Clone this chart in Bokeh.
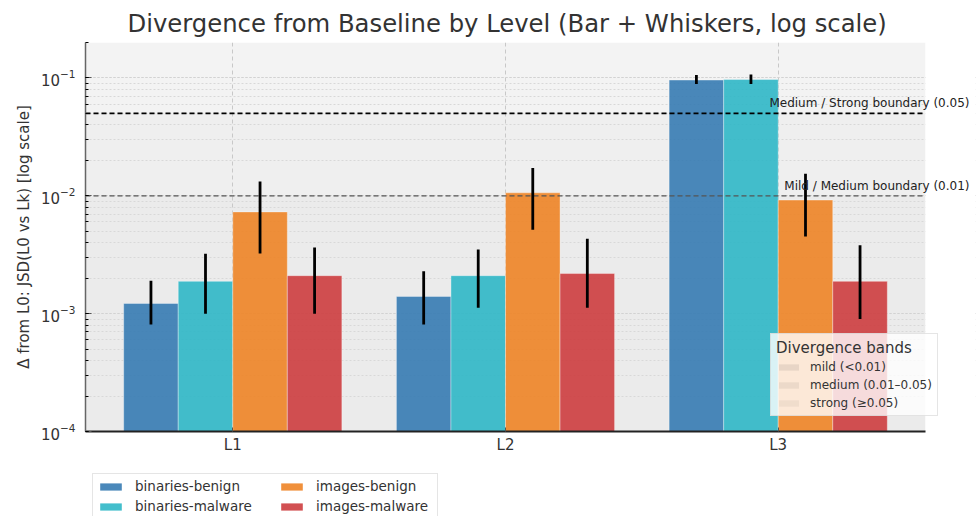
from bokeh.plotting import figure
from bokeh.layouts import column
from bokeh.models import (Range1d, FixedTicker, Label, Legend, LegendItem,
                          ColumnDataSource)
from bokeh.embed import file_html
from bokeh.resources import INLINE

levels = ["L1", "L2", "L3"]
series = ["binaries-benign", "binaries-malware", "images-benign", "images-malware"]
colors = ["#367bb2", "#2fb7c7", "#ee8426", "#cd3d3f"]

bb_mean = [0.00122, 0.00140, 0.096]
bb_lo = [0.00081, 0.00081, 0.089]
bb_hi = [0.0019, 0.00229, 0.106]
bm_mean = [0.00188, 0.0021, 0.097]
bm_lo = [0.0010, 0.00112, 0.089]
bm_hi = [0.00322, 0.0035, 0.107]
ib_mean = [0.0073, 0.0106, 0.0092]
ib_lo = [0.00324, 0.00516, 0.00452]
ib_hi = [0.0132, 0.0172, 0.0154]
im_mean = [0.0021, 0.00219, 0.00188]
im_lo = [0.0010, 0.00112, 0.0009]
im_hi = [0.00365, 0.00433, 0.0038]

means = [bb_mean, bm_mean, ib_mean, im_mean]
lows = [bb_lo, bm_lo, ib_lo, im_lo]
highs = [bb_hi, bm_hi, ib_hi, im_hi]

band_labels = ["mild (<0.01)", "medium (0.01–0.05)", "strong (≥0.05)"]
band_lo = [1e-4, 0.01, 0.05]
band_hi = [0.01, 0.05, 0.2]
band_alphas = [0.08, 0.062, 0.047]

boundaries = [0.05, 0.01]
boundary_labels = ["Medium / Strong boundary (0.05)", "Mild / Medium boundary (0.01)"]
boundary_colors = ["#000000", "#555555"]
boundary_widths = [1.8, 1.3]

FONT = "DejaVu Sans"
bar_w = 0.2
n_series = len(series)
span = len(levels) - 1 + bar_w * n_series
xmin = -bar_w * n_series / 2 - 0.05 * span
xmax = len(levels) - 1 + bar_w * n_series / 2 + 0.05 * span
ymin, ymax = 1e-4, 0.2

AX_PX = 840      # width of the drawn axes area
FRAME_PX = 890   # frame also holds the labels that overhang on the right
x_end = xmin + (xmax - xmin) * FRAME_PX / AX_PX
px_unit = AX_PX / (xmax - xmin)

p = figure(frame_width=FRAME_PX, frame_height=389, y_axis_type="log",
           x_range=Range1d(xmin, x_end), y_range=Range1d(ymin, ymax),
           output_backend="svg", toolbar_location=None,
           min_border_left=85, min_border_right=4, min_border_top=42, min_border_bottom=39)
p.outline_line_color = None
p.background_fill_color = "white"
p.border_fill_color = "white"

# bands
band_renderers = []
for lo, hi, a in zip(band_lo, band_hi, band_alphas):
    r = p.quad(left=[xmin], right=[xmax], bottom=[lo], top=[hi], fill_color="black",
               fill_alpha=a, line_color=None, level="image")
    band_renderers.append(r)

# hide grid beyond the axes area
p.quad(left=[xmax], right=[x_end], bottom=[ymin], top=[ymax], fill_color="white",
       line_color=None)

# bars
sources = []
for i, (name, col, m, lo, hi) in enumerate(zip(series, colors, means, lows, highs)):
    xs = [k + (i - (n_series - 1) / 2) * bar_w for k in range(len(levels))]
    src = ColumnDataSource(dict(x=xs, top=m, lo=lo, hi=hi))
    sources.append(src)
    p.vbar(x="x", top="top", bottom=ymin, width=bar_w, source=src,
           fill_color=col, fill_alpha=0.9, line_color="white", line_alpha=0.35,
           line_width=1)

# boundary lines
for b, c, w in zip(boundaries, boundary_colors, boundary_widths):
    p.segment(x0=[xmin], y0=[b], x1=[xmax], y1=[b], line_color=c, line_width=w,
              line_dash="5 3")

# whiskers
for src in sources:
    p.segment(x0="x", y0="lo", x1="x", y1="hi", source=src, line_color="black",
              line_width=2.8)

for b, lab in zip(boundaries, boundary_labels):
    p.add_layout(Label(x=xmax + 44 / px_unit, y=b, text=lab, text_align="right",
                       text_baseline="bottom", y_offset=3, text_font=FONT,
                       text_font_size="12px", text_color="#222222"))

# grids
p.xgrid.ticker = FixedTicker(ticks=list(range(len(levels))))
p.xgrid.grid_line_color = "#c8c8c8"
p.xgrid.grid_line_dash = "4 3"
p.ygrid.grid_line_color = "#d2d2d2"
p.ygrid.grid_line_dash = "2 2"
p.ygrid.minor_grid_line_color = "#d8d8d8"
p.ygrid.minor_grid_line_dash = "2 2"

# axes
p.xaxis.ticker = FixedTicker(ticks=list(range(len(levels))))
p.xaxis.major_label_overrides = {i: lv for i, lv in enumerate(levels)}
p.xaxis.bounds = (xmin, xmax)
p.xaxis.major_tick_in = 4
p.xaxis.major_tick_out = 0
p.xaxis.minor_tick_line_color = None
p.xaxis.axis_line_color = "#222222"
p.xaxis.axis_line_width = 1.8
p.xaxis.major_label_standoff = 4
p.yaxis.axis_line_color = "#666666"
p.yaxis.axis_line_width = 1.5
p.yaxis.major_tick_in = 6
p.yaxis.major_tick_out = 0
p.yaxis.minor_tick_in = 3
p.yaxis.minor_tick_out = 0
p.yaxis.major_label_standoff = 10
p.yaxis.axis_label = "Δ from L0: JSD(L0 vs Lk) [log scale]"
for ax in (p.xaxis[0], p.yaxis[0]):
    ax.major_label_text_font = FONT
    ax.major_label_text_font_size = "15px"
    ax.major_label_text_color = "#333333"
    ax.axis_label_text_font = FONT
    ax.axis_label_text_font_size = "15px"
    ax.axis_label_text_font_style = "normal"
    ax.axis_label_text_color = "#333333"
    ax.major_tick_line_color = "#555555"

p.title.text = "Divergence from Baseline by Level (Bar + Whiskers, log scale)"
p.title.text_font = FONT
p.title.text_font_size = "24.3px"
p.title.text_font_style = "normal"
p.title.text_color = "#333333"
p.title.align = "left"
p.title.offset = 42
p.title.standoff = 10

# band legend
band_leg = Legend(items=[LegendItem(label=l, renderers=[r]) for l, r in zip(band_labels, band_renderers)],
                  title="Divergence bands", location=(685, 15))
band_leg.title_text_font = FONT
band_leg.title_text_font_size = "15px"
band_leg.title_text_font_style = "normal"
band_leg.title_text_color = "#333333"
band_leg.title_standoff = 2
band_leg.label_text_font = FONT
band_leg.label_text_font_size = "12px"
band_leg.label_text_color = "#333333"
band_leg.label_standoff = 9
band_leg.background_fill_alpha = 0.8
band_leg.border_line_color = "#cccccc"
band_leg.glyph_width = 25
band_leg.glyph_height = 8
band_leg.label_height = 15
band_leg.spacing = 3
band_leg.padding = 5
p.add_layout(band_leg)

# series legend (separate strip below the chart; its frame aligns with the chart's);
# the proxy renderers lie far outside this strip's visible range
lp = figure(width=FRAME_PX + 89, height=46, x_range=Range1d(100, 101), y_range=Range1d(1, 2),
            x_axis_location=None, y_axis_location=None, output_backend="svg",
            toolbar_location=None, min_border=0)
lp.grid.visible = False
lp.outline_line_color = None
proxies = [lp.vbar(x="x", top="top", bottom=ymin, width=bar_w, source=src,
                   fill_color=c, fill_alpha=0.9, line_color=None)
           for src, c in zip(sources, colors)]

def style_legend(lg):
    lg.label_text_font = FONT
    lg.label_text_font_size = "13.5px"
    lg.label_text_color = "#333333"
    lg.glyph_width = 27
    lg.glyph_height = 9
    lg.label_height = 16
    lg.label_standoff = 11
    lg.spacing = 4
    lg.padding = 4
    lg.margin = 0

leg_a = Legend(items=[LegendItem(label=series[0], renderers=[proxies[0]]),
                      LegendItem(label=series[1], renderers=[proxies[1]])],
               location=(7, -3))
style_legend(leg_a)
leg_a.label_width = 298
leg_a.border_line_color = "#cccccc"
leg_b = Legend(items=[LegendItem(label=series[2], renderers=[proxies[2]]),
                      LegendItem(label=series[3], renderers=[proxies[3]])],
               location=(193, 2))
style_legend(leg_b)
leg_b.border_line_color = None
leg_b.background_fill_alpha = 0
lp.add_layout(leg_a)
lp.add_layout(leg_b)

layout = column(p, lp, spacing=0)
open("out.html", "w").write(file_html(layout, INLINE))
